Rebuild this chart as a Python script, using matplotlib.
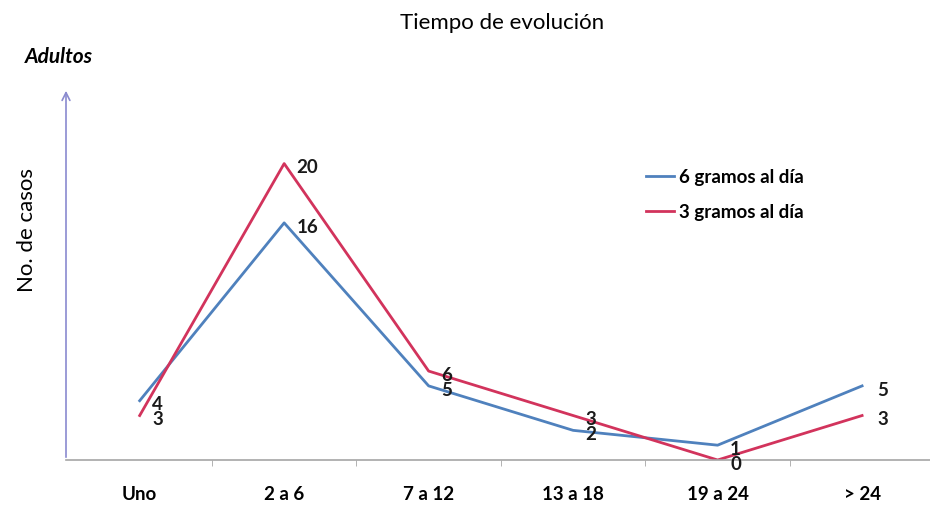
import matplotlib
matplotlib.use("Agg")
import matplotlib.pyplot as plt
import numpy as np

plt.rcParams["font.family"] = ["Lato", "DejaVu Sans"]

categories = ["Uno", "2 a 6", "7 a 12", "13 a 18", "19 a 24", "> 24"]
seis_gramos = [4, 16, 5, 2, 1, 5]
tres_gramos = [3, 20, 6, 3, 0, 3]

BLUE = "#4F81BD"
RED = "#D2335C"

fig = plt.figure(figsize=(9.3, 5.08), dpi=100)
ax = fig.add_axes([66 / 930, 48 / 508, 864 / 930, 372 / 508])

x = np.arange(len(categories))
ax.plot(x, seis_gramos, color=BLUE, linewidth=2, label="6 gramos al día")
ax.plot(x, tres_gramos, color=RED, linewidth=2, label="3 gramos al día")

# data labels, bold, just right of each point
for xi, (b, r) in enumerate(zip(seis_gramos, tres_gramos)):
    dx = 11 if xi == len(categories) - 1 else 9
    for val in (b, r):
        ax.annotate(str(val), (xi, val), xytext=(dx, -3), textcoords="offset points",
                    ha="left", va="center", fontsize=13.5, fontweight="bold", color="#1a1a1a")

ax.set_xlim(-0.51, 5.47)
ax.set_ylim(0, 25.1)

for side in ["left", "top", "right"]:
    ax.spines[side].set_visible(False)
ax.spines["bottom"].set_color("#a6a6a6")
ax.spines["bottom"].set_linewidth(1.2)

ax.set_yticks([])
ax.set_xticks(x)
ax.set_xticklabels(categories, fontsize=13.5, fontweight="bold")
ax.tick_params(axis="x", which="major", length=0, pad=19)
ax.set_xticks(x[:-1] + 0.5, minor=True)
ax.tick_params(axis="x", which="minor", length=4, color="#a6a6a6", direction="out")

# y axis with arrow
ax.annotate("", xy=(0, 1.0), xytext=(0, 0), xycoords="axes fraction",
            arrowprops=dict(arrowstyle="->", color="#8a8acf", lw=1.2, mutation_scale=14))

fig.text(502 / 930, 1 - 23 / 508, "Tiempo de evolución", ha="center", va="center", fontsize=16)
fig.text(25 / 930, 1 - 57 / 508, "Adultos", ha="left", va="center", fontsize=15,
         fontweight="bold", fontstyle="italic")
fig.text(27 / 930, 1 - 230 / 508, "No. de casos", ha="center", va="center", fontsize=16,
         rotation=90)

ax.legend(loc="upper left", bbox_to_anchor=(563 / 864, (460 - 152) / 372), frameon=False,
          prop={"weight": "bold", "size": 13.5}, handlelength=1.5,
          handletextpad=0.25, labelspacing=0.95)

fig.savefig("out.png", dpi=100)
